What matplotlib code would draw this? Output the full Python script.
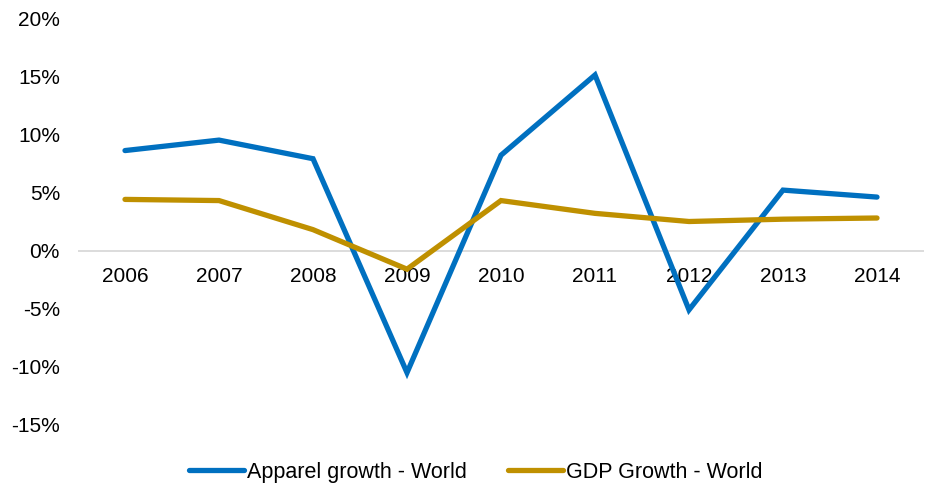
import matplotlib
matplotlib.use("Agg")
import matplotlib.pyplot as plt
from matplotlib.ticker import FuncFormatter

years = ["2006", "2007", "2008", "2009", "2010", "2011", "2012", "2013", "2014"]
apparel = [8.6, 9.5, 7.9, -10.5, 8.2, 15.1, -5.1, 5.2, 4.6]
gdp = [4.4, 4.3, 1.8, -1.6, 4.3, 3.2, 2.5, 2.7, 2.8]
yticks = [-15, -10, -5, 0, 5, 10, 15, 20]

plt.rcParams['font.family'] = ['Liberation Sans', 'DejaVu Sans']
plt.rcParams['font.size'] = 15

W, H = 929, 486
fig = plt.figure(figsize=(W/100, H/100), dpi=100)
ax = fig.add_axes([78/W, 1-425/H, (924-78)/W, (425-18)/H])

x = list(range(len(years)))
ax.plot(x, apparel, color="#0070C0", lw=3.8, solid_capstyle='round', solid_joinstyle='miter', label="Apparel growth - World", zorder=3)
ax.plot(x, gdp, color="#BF9000", lw=3.8, solid_capstyle='round', solid_joinstyle='miter', label="GDP Growth - World", zorder=3)
ax.axhline(0, color="#D9D9D9", lw=1.3, zorder=0)

ax.set_xlim(-0.5, len(years)-0.5)
ax.set_ylim(-15, 20)
ax.set_yticks(yticks)
ax.yaxis.set_major_formatter(FuncFormatter(lambda v, p: f"{int(v)}%"))
ax.tick_params(axis='y', length=0, pad=13, labelsize=15, labelcolor="#000000")
ax.set_xticks([])
for s in ax.spines.values():
    s.set_visible(False)

for i, yr in enumerate(years):
    ax.annotate(yr, xy=(i, 0), xytext=(0, -19), textcoords='offset points',
                ha='center', va='center', fontsize=15, zorder=1)

fig.legend(loc='center', bbox_to_anchor=(476/W, 1-472/H), ncol=2, frameon=False,
           handlelength=2.56, handletextpad=0.14, columnspacing=1.9, fontsize=15.5)

fig.savefig("out.png", dpi=100)
